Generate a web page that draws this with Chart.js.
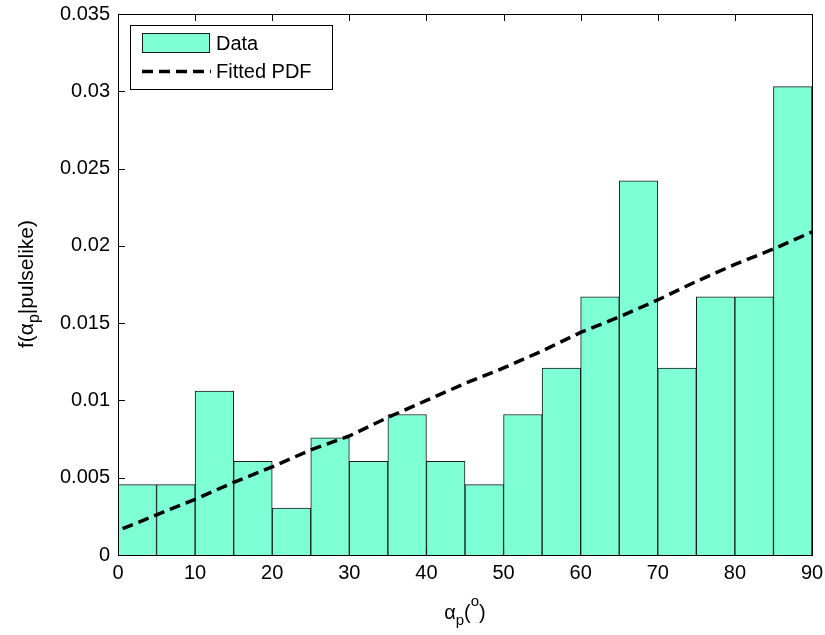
<!DOCTYPE html>
<html>
<head>
<meta charset="utf-8">
<script src="https://cdn.jsdelivr.net/npm/chart.js@4/dist/chart.umd.min.js"></script>
<style>
  html, body { margin: 0; padding: 0; background: #fff; }
  #wrap { width: 825px; height: 635px; }
</style>
</head>
<body>
<div id="wrap"><canvas id="c" width="825" height="635"></canvas></div>
<script>
// Histogram bins (5° wide) of alpha_p and their density values
const binCenters = [2.5, 7.5, 12.5, 17.5, 22.5, 27.5, 32.5, 37.5, 42.5, 47.5, 52.5, 57.5, 62.5, 67.5, 72.5, 77.5, 82.5, 87.5];
const densities  = [0.00455, 0.00455, 0.0106, 0.00606, 0.00303, 0.00758, 0.00606, 0.00909, 0.00606, 0.00455,
                    0.00909, 0.0121, 0.0167, 0.0242, 0.0121, 0.0167, 0.0167, 0.0303];

// Fitted probability density curve
const fittedX = [0.6, 5, 10, 15, 20, 25, 30, 35, 40, 45, 50, 55, 60, 65, 70, 75, 80, 85, 90];
const fittedY = [0.0017, 0.0026, 0.0036, 0.0047, 0.0057, 0.0068, 0.0077, 0.0089, 0.0100, 0.0111, 0.0121,
                 0.0132, 0.0144, 0.0154, 0.0165, 0.0177, 0.0188, 0.0198, 0.0209];

// Axis ticks
const xTickValues = [0, 10, 20, 30, 40, 50, 60, 70, 80, 90];
const xTickLabels = ['0', '10', '20', '30', '40', '50', '60', '70', '80', '90'];
const yTickValues = [0, 0.005, 0.01, 0.015, 0.02, 0.025, 0.03, 0.035];
const yTickLabels = ['0', '0.005', '0.01', '0.015', '0.02', '0.025', '0.03', '0.035'];

const FONT = '"Liberation Sans", Arial, Helvetica, sans-serif';
const BAR_FILL = '#7fffd4';
const BAR_EDGE = '#1a1a1a';
const TICK_LEN = 7;

Chart.defaults.color = '#000';
Chart.defaults.font.family = FONT;

// Draws the axes box, inward ticks, the legend box and the axis titles
const framePlugin = {
  id: 'frame',
  beforeDatasetsDraw(chart) {
    const { ctx, chartArea: a, scales: { x, y } } = chart;
    ctx.save();
    ctx.strokeStyle = '#000';
    ctx.lineWidth = 1;
    ctx.beginPath();
    xTickValues.forEach(v => {
      const px = Math.round(x.getPixelForValue(v)) + 0.5;
      ctx.moveTo(px, a.bottom); ctx.lineTo(px, a.bottom - TICK_LEN);
      ctx.moveTo(px, a.top); ctx.lineTo(px, a.top + TICK_LEN);
    });
    yTickValues.forEach(v => {
      const py = Math.round(y.getPixelForValue(v)) + 0.5;
      ctx.moveTo(a.left, py); ctx.lineTo(a.left + TICK_LEN, py);
      ctx.moveTo(a.right, py); ctx.lineTo(a.right - TICK_LEN, py);
    });
    ctx.stroke();
    ctx.restore();
  },
  afterDatasetsDraw(chart) {
    const { ctx, chartArea: a } = chart;
    ctx.save();
    ctx.strokeStyle = '#000';
    ctx.lineWidth = 1;
    ctx.strokeRect(Math.round(a.left) + 0.5, Math.round(a.top) + 0.5,
                   Math.round(a.right - a.left), Math.round(a.bottom - a.top));
    ctx.restore();
  },
  afterDraw(chart) {
    const { ctx, chartArea: a } = chart;
    const ds = chart.data.datasets;
    ctx.save();

    // Legend
    const lx = 130.5, ly = 25.5, lw = 202, lh = 64;
    ctx.fillStyle = '#fff';
    ctx.fillRect(lx, ly, lw, lh);
    ctx.strokeStyle = '#000';
    ctx.lineWidth = 1;
    ctx.strokeRect(lx, ly, lw, lh);

    ctx.fillStyle = BAR_FILL;
    ctx.fillRect(142, 33, 68, 20);
    ctx.strokeStyle = BAR_EDGE;
    ctx.strokeRect(142.5, 33.5, 67, 19);

    ctx.strokeStyle = '#000';
    ctx.lineWidth = 3.5;
    ctx.setLineDash([11, 6]);
    ctx.beginPath();
    ctx.moveTo(142, 71.5);
    ctx.lineTo(211, 71.5);
    ctx.stroke();
    ctx.setLineDash([]);

    ctx.fillStyle = '#000';
    ctx.font = '20px ' + FONT;
    ctx.textBaseline = 'middle';
    ctx.textAlign = 'left';
    ctx.fillText(ds[0].label, 216, 44);
    ctx.fillText(ds[1].label, 216, 72);

    // X axis title: alpha_p(°)
    const big = '20px ' + FONT, small = '15px ' + FONT;
    ctx.textBaseline = 'alphabetic';
    const xParts = [
      { t: 'α', f: big, dy: 0 },
      { t: 'p', f: small, dy: 6 },
      { t: '(', f: big, dy: 0 },
      { t: 'o', f: small, dy: -13 },
      { t: ')', f: big, dy: 0 }
    ];
    let tw = 0;
    xParts.forEach(p => { ctx.font = p.f; p.w = ctx.measureText(p.t).width; tw += p.w; });
    let cx = (a.left + a.right) / 2 - tw / 2;
    xParts.forEach(p => { ctx.font = p.f; ctx.fillText(p.t, cx, 619 + p.dy); cx += p.w; });

    // Y axis title: f(alpha_p|pulselike), rotated
    const ybig = '21px ' + FONT, ysmall = '16px ' + FONT;
    const yParts = [
      { t: 'f(α', f: ybig, dy: 0 },
      { t: 'p', f: ysmall, dy: 6 },
      { t: '|pulselike)', f: ybig, dy: 0 }
    ];
    tw = 0;
    yParts.forEach(p => { ctx.font = p.f; p.w = ctx.measureText(p.t).width; tw += p.w; });
    ctx.translate(33, 284 + tw / 2);
    ctx.rotate(-Math.PI / 2);
    cx = 0;
    yParts.forEach(p => { ctx.font = p.f; ctx.fillText(p.t, cx, p.dy); cx += p.w; });

    ctx.restore();
  }
};

new Chart(document.getElementById('c'), {
  type: 'bar',
  data: {
    datasets: [
      {
        type: 'bar',
        label: 'Data',
        data: binCenters.map((c, i) => ({ x: c, y: densities[i] })),
        backgroundColor: BAR_FILL,
        borderColor: BAR_EDGE,
        borderWidth: 1,
        barPercentage: 1,
        categoryPercentage: 1,
        order: 2
      },
      {
        type: 'line',
        label: 'Fitted PDF',
        data: fittedX.map((v, i) => ({ x: v, y: fittedY[i] })),
        borderColor: '#000',
        borderWidth: 3.5,
        borderDash: [11, 6],
        borderCapStyle: 'butt',
        pointRadius: 0,
        tension: 0,
        fill: false,
        order: 1
      }
    ]
  },
  options: {
    responsive: false,
    animation: false,
    layout: { padding: { left: 0, right: 13, top: 14, bottom: 0 } },
    plugins: {
      legend: { display: false },
      tooltip: { enabled: false }
    },
    scales: {
      x: {
        type: 'linear',
        min: 0,
        max: 90,
        offset: false,
        grid: { display: false, drawTicks: false },
        border: { display: false },
        afterBuildTicks: s => { s.ticks = xTickValues.map(v => ({ value: v })); },
        ticks: {
          autoSkip: false,
          maxRotation: 0,
          padding: 6,
          font: { size: 20 },
          callback: (v, i) => xTickLabels[i]
        },
        afterFit: s => { s.height = 80; s.paddingLeft = 0; s.paddingRight = 0; }
      },
      y: {
        min: 0,
        max: 0.035,
        grid: { display: false, drawTicks: false },
        border: { display: false },
        afterBuildTicks: s => { s.ticks = yTickValues.map(v => ({ value: v })); },
        ticks: {
          autoSkip: false,
          padding: 8,
          font: { size: 20 },
          callback: (v, i) => yTickLabels[i]
        },
        afterFit: s => { s.width = 118; s.paddingTop = 0; s.paddingBottom = 0; }
      }
    }
  },
  plugins: [framePlugin]
});
</script>
</body>
</html>
